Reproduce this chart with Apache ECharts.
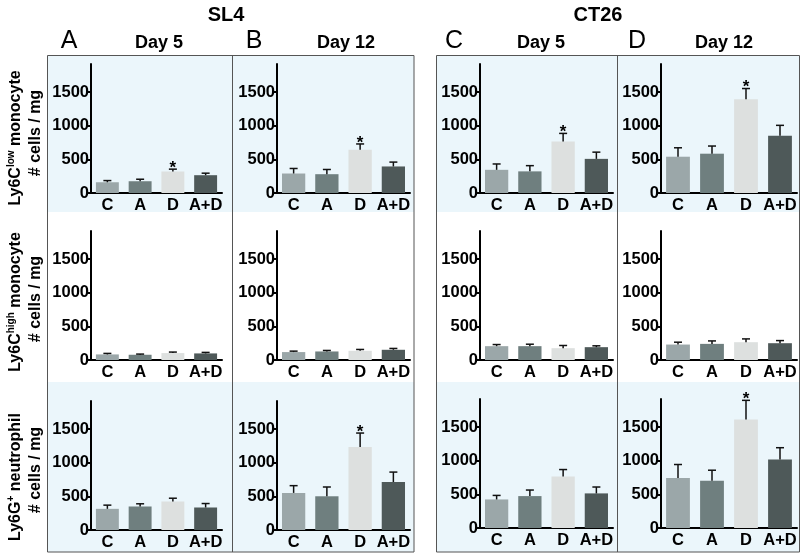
<!DOCTYPE html>
<html><head><meta charset="utf-8">
<script src="https://cdn.jsdelivr.net/npm/echarts@6/dist/echarts.min.js"></script>
<style>html,body{margin:0;padding:0;background:#fff}#c{width:802px;height:555px}</style>
</head><body><div id="c"></div>
<script>
const categories = ['C', 'A', 'D', 'A+D'];
const yTickValues = [0, 500, 1000, 1500];
const yMax = 1920;
const barColors = ['#9ba7a9', '#6f7f7f', '#dde0df', '#4e5959'];

// Ly6C-low monocyte (row 1): SL4 day5, SL4 day12, CT26 day5, CT26 day12
const lowSl4Day5 = [160, 175, 320, 265];
const lowSl4Day5Err = [25, 30, 35, 30];
const lowSl4Day12 = [290, 280, 645, 395];
const lowSl4Day12Err = [75, 70, 85, 65];
const lowCt26Day5 = [345, 322, 765, 508];
const lowCt26Day5Err = [87, 85, 122, 100];
const lowCt26Day12 = [540, 585, 1395, 853];
const lowCt26Day12Err = [133, 114, 160, 154];
const lowStars = [2, 2, 2, 2];

// Ly6C-high monocyte (row 2)
const highSl4Day5 = [83, 78, 103, 98];
const highSl4Day5Err = [15, 10, 15, 15];
const highSl4Day12 = [118, 127, 137, 152];
const highSl4Day12Err = [14, 15, 20, 20];
const highCt26Day5 = [206, 206, 176, 191];
const highCt26Day5Err = [24, 29, 40, 20];
const highCt26Day12 = [230, 240, 265, 250];
const highCt26Day12Err = [35, 44, 49, 39];
const highStars = [-1, -1, -1, -1];

// Ly6G+ neutrophil (row 3)
const neutSl4Day5 = [315, 350, 424, 335];
const neutSl4Day5Err = [55, 40, 49, 59];
const neutSl4Day12 = [552, 502, 1236, 714];
const neutSl4Day12Err = [108, 138, 207, 148];
const neutCt26Day5 = [425, 475, 765, 515];
const neutCt26Day5Err = [60, 90, 105, 95];
const neutCt26Day12 = [745, 705, 1615, 1020];
const neutCt26Day12Err = [200, 155, 285, 175];
const neutStars = [-1, 2, -1, 2];

const rowsData = [
  [[lowSl4Day5, lowSl4Day5Err], [lowSl4Day12, lowSl4Day12Err], [lowCt26Day5, lowCt26Day5Err], [lowCt26Day12, lowCt26Day12Err]],
  [[highSl4Day5, highSl4Day5Err], [highSl4Day12, highSl4Day12Err], [highCt26Day5, highCt26Day5Err], [highCt26Day12, highCt26Day12Err]],
  [[neutSl4Day5, neutSl4Day5Err], [neutSl4Day12, neutSl4Day12Err], [neutCt26Day5, neutCt26Day5Err], [neutCt26Day12, neutCt26Day12Err]]
];
const rowStars = [lowStars, highStars, neutStars];

// layout
const colLeft = [91, 277, 480, 661];
const colWidth = [131, 133, 133, 136];
const rowTop = [[64, 64, 64, 64], [231, 231, 231, 231], [401, 401, 399, 399]];
const gridH = 129;
const FONT = '"Liberation Sans", Arial, Helvetica, sans-serif';

const grid = [], xAxis = [], yAxis = [], series = [];
let gi = 0;
for (let r = 0; r < 3; r++) {
  for (let c = 0; c < 4; c++) {
    grid.push({ left: colLeft[c], top: rowTop[r][c], width: colWidth[c], height: gridH, containLabel: false });
    xAxis.push({
      type: 'category', gridIndex: gi, data: categories,
      axisLine: { lineStyle: { color: '#000', width: 2 } },
      axisTick: { show: false },
      axisLabel: { color: '#000', fontFamily: FONT, fontWeight: 'bold', fontSize: 16.5, margin: 4, interval: 0 }
    });
    yAxis.push({
      type: 'value', gridIndex: gi, min: 0, max: yMax, interval: 500,
      splitLine: { show: false },
      axisLine: { show: true, lineStyle: { color: '#000', width: 2 } },
      axisTick: { show: true, length: 4, lineStyle: { color: '#000', width: 2 }, customValues: yTickValues },
      axisLabel: { color: '#000', fontFamily: FONT, fontWeight: 'bold', fontSize: 16.5, margin: 2,
        showMaxLabel: false, hideOverlap: false,
        formatter: v => (yTickValues.indexOf(v) >= 0 ? String(v) : '') }
    });
    const [mean, err] = rowsData[r][c];
    const starIdx = rowStars[r][c];
    series.push({
      type: 'bar', xAxisIndex: gi, yAxisIndex: gi, data: mean, barWidth: '70%',
      itemStyle: { color: p => barColors[p.dataIndex] }, silent: true, animation: false, z: 2
    });
    series.push({
      type: 'custom', xAxisIndex: gi, yAxisIndex: gi, animation: false, silent: true, z: 3,
      data: mean.map((m, i) => [i, m, m + err[i], i === starIdx ? 1 : 0]),
      encode: { x: 0, y: [1, 2] },
      renderItem: (params, api) => {
        const b = api.coord([api.value(0), api.value(1)]);
        const t = api.coord([api.value(0), api.value(2)]);
        const children = [
          { type: 'line', shape: { x1: b[0], y1: b[1], x2: t[0], y2: t[1] }, style: { stroke: '#111', lineWidth: 1.5 } },
          { type: 'line', shape: { x1: t[0] - 4, y1: t[1], x2: t[0] + 4, y2: t[1] }, style: { stroke: '#111', lineWidth: 1.5 } }
        ];
        if (api.value(3) === 1) {
          children.push({ type: 'text', style: { text: '*', x: t[0], y: t[1] - 1, align: 'center', verticalAlign: 'middle',
            fontSize: 17, fontWeight: 'bold', fontFamily: FONT, fill: '#000' } });
        }
        return { type: 'group', children };
      }
    });
    gi++;
  }
}

const BG = '#ebf6fb';
const graphic = [
  // background bands
  { type: 'rect', z: -10, shape: { x: 47, y: 55, width: 367, height: 157 }, style: { fill: BG } },
  { type: 'rect', z: -10, shape: { x: 47, y: 382, width: 367, height: 170 }, style: { fill: BG } },
  { type: 'rect', z: -10, shape: { x: 436, y: 55, width: 363, height: 157 }, style: { fill: BG } },
  { type: 'rect', z: -10, shape: { x: 436, y: 382, width: 363, height: 170 }, style: { fill: BG } },
  // borders
  { type: 'rect', z: 10, shape: { x: 47.5, y: 55.5, width: 366.5, height: 496.5 }, style: { fill: null, stroke: '#555', lineWidth: 1 } },
  { type: 'line', z: 10, shape: { x1: 232.5, y1: 55.5, x2: 232.5, y2: 552 }, style: { stroke: '#555', lineWidth: 1 } },
  { type: 'rect', z: 10, shape: { x: 436.5, y: 55.5, width: 363, height: 496.5 }, style: { fill: null, stroke: '#555', lineWidth: 1 } },
  { type: 'line', z: 10, shape: { x1: 617.5, y1: 55.5, x2: 617.5, y2: 552 }, style: { stroke: '#555', lineWidth: 1 } },
  // group titles
  { type: 'text', style: { text: 'SL4', x: 226, y: 15, align: 'center', verticalAlign: 'middle', fontSize: 20, fontWeight: 'bold', fontFamily: FONT, fill: '#000' } },
  { type: 'text', style: { text: 'CT26', x: 598, y: 15, align: 'center', verticalAlign: 'middle', fontSize: 20, fontWeight: 'bold', fontFamily: FONT, fill: '#000' } },
  // panel letters
  { type: 'text', style: { text: 'A', x: 69, y: 41, align: 'center', verticalAlign: 'middle', fontSize: 25, fontFamily: FONT, fill: '#000' } },
  { type: 'text', style: { text: 'B', x: 254, y: 41, align: 'center', verticalAlign: 'middle', fontSize: 25, fontFamily: FONT, fill: '#000' } },
  { type: 'text', style: { text: 'C', x: 454, y: 41, align: 'center', verticalAlign: 'middle', fontSize: 25, fontFamily: FONT, fill: '#000' } },
  { type: 'text', style: { text: 'D', x: 637, y: 41, align: 'center', verticalAlign: 'middle', fontSize: 25, fontFamily: FONT, fill: '#000' } },
  // day labels
  { type: 'text', style: { text: 'Day 5', x: 159, y: 43, align: 'center', verticalAlign: 'middle', fontSize: 18, fontWeight: 'bold', fontFamily: FONT, fill: '#000' } },
  { type: 'text', style: { text: 'Day 12', x: 346, y: 43, align: 'center', verticalAlign: 'middle', fontSize: 18, fontWeight: 'bold', fontFamily: FONT, fill: '#000' } },
  { type: 'text', style: { text: 'Day 5', x: 541, y: 43, align: 'center', verticalAlign: 'middle', fontSize: 18, fontWeight: 'bold', fontFamily: FONT, fill: '#000' } },
  { type: 'text', style: { text: 'Day 12', x: 724, y: 43, align: 'center', verticalAlign: 'middle', fontSize: 18, fontWeight: 'bold', fontFamily: FONT, fill: '#000' } }
];

const rowLabels = [
  { pre: 'Ly6C', sup: 'low', post: ' monocyte', y1: 138, y2: 133 },
  { pre: 'Ly6C', sup: 'high', post: ' monocyte', y1: 302, y2: 299 },
  { pre: 'Ly6G', sup: '+', post: ' neutrophil', y1: 477, y2: 470 }
];
rowLabels.forEach(l => {
  graphic.push({
    type: 'text', x: 15, y: l.y1, rotation: Math.PI / 2,
    style: {
      text: '{m|' + l.pre + '}{s|' + l.sup + '}{m|' + l.post + '}',
      align: 'center', verticalAlign: 'middle', fill: '#000',
      rich: {
        m: { fontSize: 16, fontWeight: 'bold', fontFamily: FONT, fill: '#000', lineHeight: 18, verticalAlign: 'bottom' },
        s: { fontSize: 10, fontWeight: 'bold', fontFamily: FONT, fill: '#000', lineHeight: 18, verticalAlign: 'top', padding: [0, 0, 6, 0] }
      }
    }
  });
  graphic.push({
    type: 'text', x: 36, y: l.y2, rotation: Math.PI / 2,
    style: { text: '# cells / mg', align: 'center', verticalAlign: 'middle', fontSize: 16, fontWeight: 'bold', fontFamily: FONT, fill: '#000' }
  });
});

const chart = echarts.init(document.getElementById('c'), null, { renderer: 'canvas' });
chart.setOption({ animation: false, backgroundColor: '#fff', grid, xAxis, yAxis, series, graphic });
</script>
</body></html>
